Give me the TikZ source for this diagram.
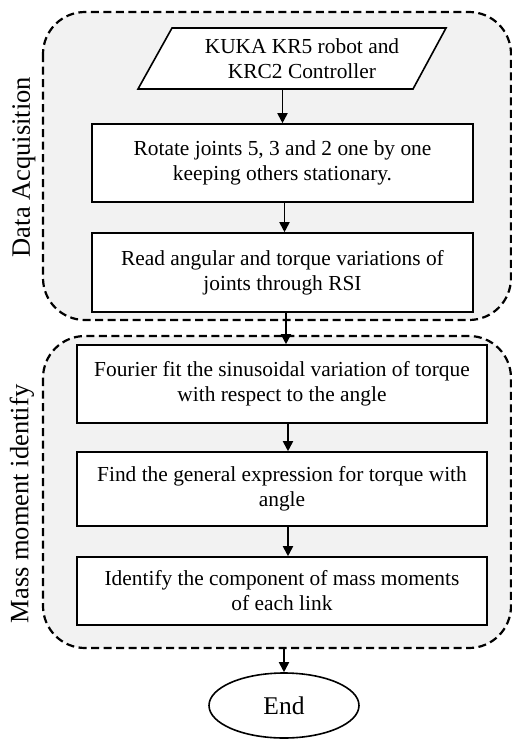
\documentclass[tikz,border=0pt]{standalone}
\usepackage{fontspec}
\setmainfont{Liberation Serif}
\usetikzlibrary{arrows.meta,shapes.geometric}
\definecolor{grpfill}{RGB}{242,242,242}
\begin{document}
\begin{tikzpicture}[x=1pt,y=-1pt,
  grp/.style={draw,line width=2.2pt,dash pattern=on 8pt off 4.5pt,fill=grpfill,rounded corners=42pt},
  stepbox/.style={draw,line width=1.6pt,fill=white,align=center,inner sep=0pt,
     font=\fontsize{21.4}{25}\selectfont},
  arr/.style={line width=1.8pt,-{Triangle[length=10pt,width=10pt]}},
  side/.style={rotate=90,font=\fontsize{26.5}{30}\selectfont}]
\useasboundingbox (0,0) rectangle (512,740);
% groups
\draw[grp] (43,12) rectangle (511,320);
\node[inner sep=0pt,minimum width=468pt,minimum height=308pt] (g1) at (277,166) {};
\draw[grp] (43,336) rectangle (511,648);
\node[inner sep=0pt,minimum width=468pt,minimum height=312pt] (g2) at (277,492) {};
\node[side] (l1) at (24,167) {Data Acquisition};
\node[side] (l2) at (22,504) {Mass moment identify};
% input parallelogram
\draw[line width=1.6pt,fill=white] (172,28) -- (446,28) -- (413,89) -- (138,89) -- cycle;
\node[align=center,inner sep=0pt,minimum height=61pt,font=\fontsize{21.4}{25}\selectfont] (src) at (302,58.5) {KUKA KR5 robot and\\KRC2 Controller};
% boxes
\node[stepbox,minimum width=381pt,minimum height=78pt] (b2) at (282.5,163) {Rotate joints 5, 3 and 2 one by one\\keeping others stationary.};
\node[stepbox,minimum width=381pt,minimum height=79pt] (b3) at (282.5,272.5) {Read angular and torque variations of\\joints through RSI};
\node[stepbox,minimum width=410pt,minimum height=78pt] (b4) at (282,384) {Fourier fit the sinusoidal variation of torque\\with respect to the angle};
\node[stepbox,minimum width=410pt,minimum height=74pt] (b5) at (282,489) {Find the general expression for torque with\\angle};
\node[stepbox,minimum width=410pt,minimum height=68pt] (b6) at (282,591) {Identify the component of mass moments\\of each link};
\node[draw,ellipse,line width=1.6pt,inner sep=0pt,minimum width=150pt,minimum height=65pt,font=\fontsize{25.5}{30}\selectfont] (end) at (284,705.5) {End};
% connectors
\draw[arr] (b2.north |- src.south) -- (b2.north);
\draw[arr] ([xshift=2pt]b2.south) -- ([xshift=2pt]b3.north);
\draw[arr] ([xshift=3.5pt]b3.south) -- ([xshift=4pt]b4.north);
\draw[arr] ([xshift=6pt]b4.south) -- ([xshift=6pt]b5.north);
\draw[arr] ([xshift=6pt]b5.south) -- ([xshift=6pt]b6.north);
\draw[arr] (end.north |- g2.south) -- (end.north);
\end{tikzpicture}
\end{document}
